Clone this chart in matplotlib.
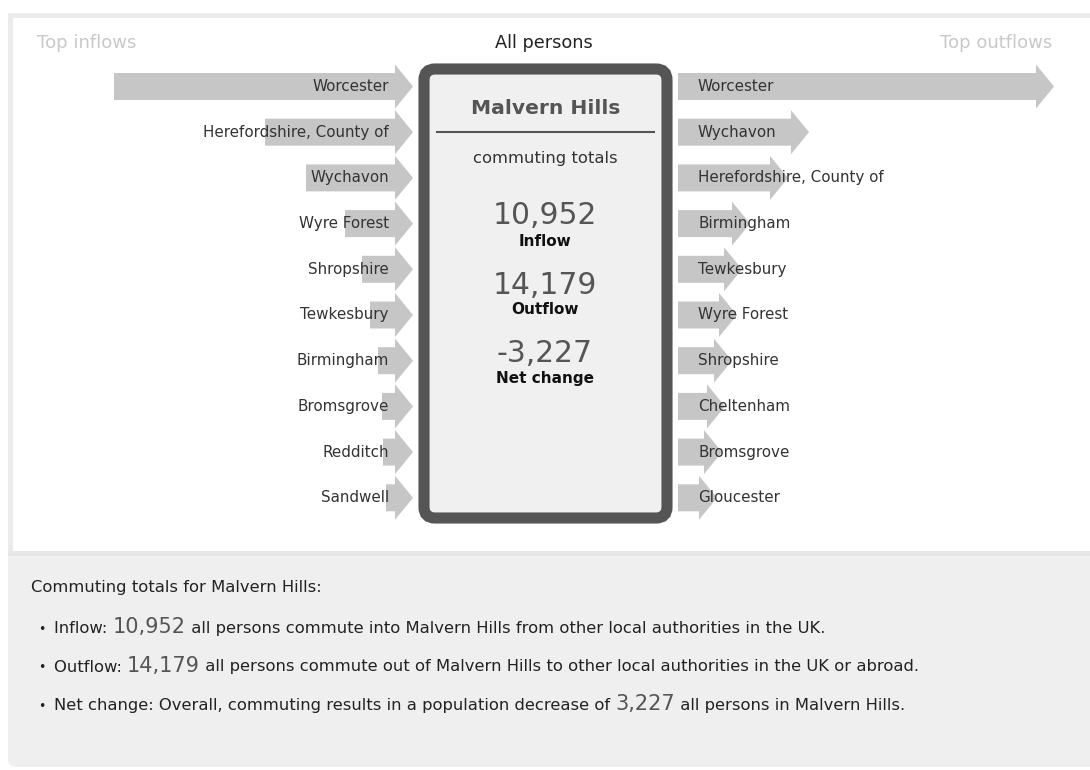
import matplotlib.pyplot as plt
from matplotlib.patches import Polygon, FancyBboxPatch, Rectangle

# Data
area = 'Malvern Hills'
inflow_names = ['Worcester', 'Herefordshire, County of', 'Wychavon', 'Wyre Forest',
                'Shropshire', 'Tewkesbury', 'Birmingham', 'Bromsgrove', 'Redditch', 'Sandwell']
inflow_values = [2990, 1480, 1070, 680, 510, 430, 350, 310, 300, 270]
outflow_names = ['Worcester', 'Wychavon', 'Herefordshire, County of', 'Birmingham',
                 'Tewkesbury', 'Wyre Forest', 'Shropshire', 'Cheltenham', 'Bromsgrove', 'Gloucester']
outflow_values = [3760, 1310, 1100, 720, 640, 590, 540, 470, 440, 390]
total_in = 10952
total_out = 14179
net = total_in - total_out

plt.rcParams['font.family'] = ['DejaVu Sans']

fig = plt.figure(figsize=(10.9, 7.7), dpi=100)
ax = fig.add_axes([0, 0, 1, 1])
ax.set_xlim(0, 1090)
ax.set_ylim(770, 0)
ax.axis('off')

scale = 0.1          # px per person
head_len = 18
body_h = 13.5
head_h = 22
arrow_col = '#c6c6c6'
txt_col = '#333333'

# panel frame
ax.add_patch(Rectangle((8, 13), 1082, 5, color='#ebebeb', lw=0))
ax.add_patch(Rectangle((8, 13), 5, 540, color='#ebebeb', lw=0))

# bottom panel
ax.add_patch(FancyBboxPatch((8, 551), 1100, 216, boxstyle='round,pad=0,rounding_size=8',
                            fc='#efefef', ec='none'))
ax.add_patch(Rectangle((8, 551), 1082, 5, color='#e6e6e6', lw=0))


def arrow(x0, x1, y):
    xb = x1 - head_len
    pts = [(x0, y - body_h), (xb, y - body_h), (xb, y - head_h), (x1, y),
           (xb, y + head_h), (xb, y + body_h), (x0, y + body_h)]
    ax.add_patch(Polygon(pts, closed=True, fc=arrow_col, ec='none', zorder=1))


rows = [86.5 + i * 45.7 for i in range(10)]

for name, v, y in zip(inflow_names, inflow_values, rows):
    arrow(413 - v * scale, 413, y)
    ax.text(389, y, name, ha='right', va='center', fontsize=10.9, color=txt_col, zorder=3)

for name, v, y in zip(outflow_names, outflow_values, rows):
    arrow(678, 678 + v * scale, y)
    ax.text(698, y, name, ha='left', va='center', fontsize=10.9, color=txt_col, zorder=3)

ax.text(37, 43, 'Top inflows', ha='left', va='center', fontsize=13, color='#c8c8c8')
ax.text(1052, 43, 'Top outflows', ha='right', va='center', fontsize=13, color='#c8c8c8')
ax.text(544, 43, 'All persons', ha='center', va='center', fontsize=12.8, color='#222222')

# centre box
ax.add_patch(FancyBboxPatch((424, 69), 243, 449, boxstyle='round,pad=0,rounding_size=11',
                            fc='#f0f0f0', ec='#555555', lw=8, zorder=2))
ax.text(546, 109, area, ha='center', va='center', fontsize=14.6, fontweight='bold',
        color='#555555', zorder=3)
ax.plot([437, 654], [132, 132], color='#555555', lw=1.5, zorder=3)
ax.text(545, 159, 'commuting totals', ha='center', va='center', fontsize=11.8,
        color=txt_col, zorder=3)

for y, num, lab in [(216, total_in, 'Inflow'), (285, total_out, 'Outflow'),
                    (354, net, 'Net change')]:
    ax.text(545, y, f'{num:,}', ha='center', va='center', fontsize=21.4,
            color='#555555', zorder=3)
    ax.text(545, y + 25, lab, ha='center', va='center', fontsize=11,
            fontweight='bold', color='#111111', zorder=3)

# summary text
ax.text(31, 592, f'Commuting totals for {area}:', ha='left', va='baseline',
        fontsize=11.8, color='#222222')

renderer = fig.canvas.get_renderer()


def line(x, y, parts):
    for s, size, col in parts:
        t = ax.text(x, y, s, ha='left', va='baseline', fontsize=size, color=col)
        bb = t.get_window_extent(renderer)
        x += bb.width


small = 11.8
big = 15
lines = [
    [('Inflow: ', small, '#222222'), (f'{total_in:,}', big, '#555555'),
     (f' all persons commute into {area} from other local authorities in the UK.', small, '#222222')],
    [('Outflow: ', small, '#222222'), (f'{total_out:,}', big, '#555555'),
     (f' all persons commute out of {area} to other local authorities in the UK or abroad.', small, '#222222')],
    [('Net change: Overall, commuting results in a population decrease of ', small, '#222222'),
     (f'{abs(net):,}', big, '#555555'), (f' all persons in {area}.', small, '#222222')],
]
for i, parts in enumerate(lines):
    y = 633 + i * 38.5
    ax.text(38, y, '•', ha='left', va='baseline', fontsize=9, color='#222222')
    line(54, y, parts)

fig.savefig('out.png', dpi=100)
